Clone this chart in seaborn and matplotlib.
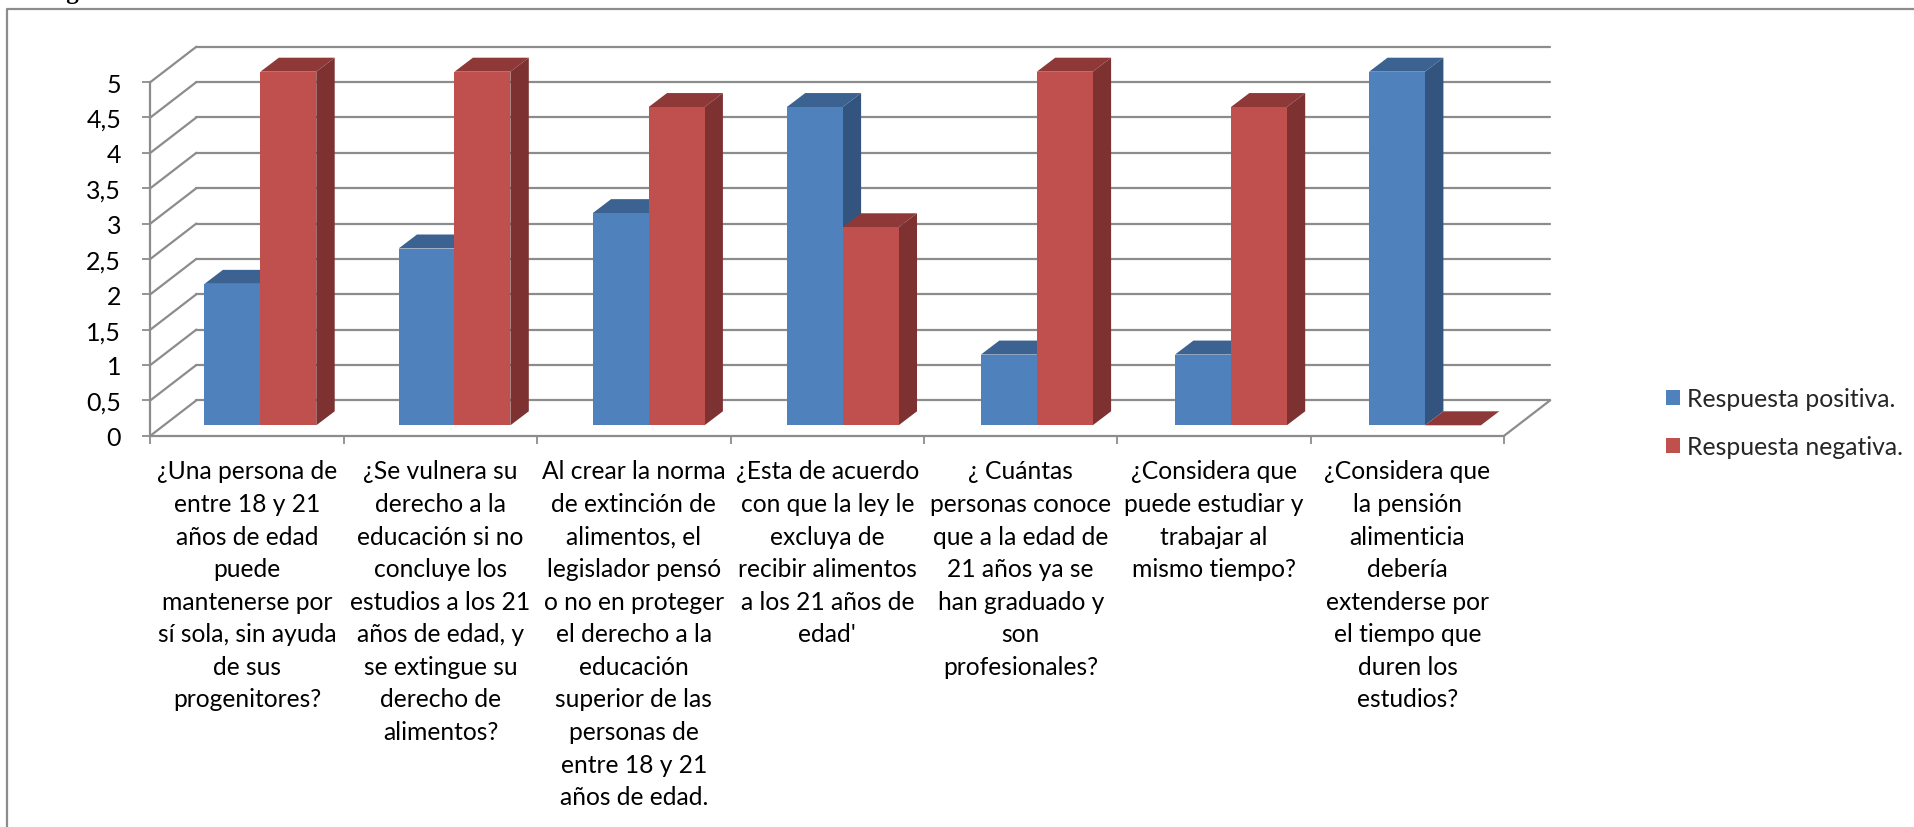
#!/usr/bin/env python
# -*- coding: utf-8 -*-

"""
Grouped bar chart with a fake 3D look (Excel style), drawn with seaborn.
"""

import pandas as pd
import matplotlib.pyplot as plt
import seaborn as sns
from matplotlib.lines import Line2D
from matplotlib.patches import Patch, Polygon
from matplotlib.transforms import Affine2D

# Data
preguntas = [
    "¿Una persona de\nentre 18 y 21\naños de edad\npuede\nmantenerse por\nsí sola, sin ayuda\nde sus\nprogenitores?",
    "¿Se vulnera su\nderecho a la\neducación si no\nconcluye los\nestudios a los 21\naños de edad, y\nse extingue su\nderecho de\nalimentos?",
    "Al crear la norma\nde extinción de\nalimentos, el\nlegislador pensó\no no en proteger\nel derecho a la\neducación\nsuperior de las\npersonas de\nentre 18 y 21\naños de edad.",
    "¿Esta de acuerdo\ncon que la ley le\nexcluya de\nrecibir alimentos\na los 21 años de\nedad'",
    "¿ Cuántas\npersonas conoce\nque a la edad de\n21 años ya se\nhan graduado y\nson\nprofesionales?",
    "¿Considera que\npuede estudiar y\ntrabajar al\nmismo tiempo?",
    "¿Considera que\nla pensión\nalimenticia\ndebería\nextenderse por\nel tiempo que\nduren los\nestudios?",
]
positiva = [2, 2.5, 3, 4.5, 1, 1, 5]
negativa = [5, 5, 4.5, 2.8, 5, 4.5, 0]
series = ["Respuesta positiva.", "Respuesta negativa."]
y_ticks = [0, 0.5, 1, 1.5, 2, 2.5, 3, 3.5, 4, 4.5, 5]
y_labels = ["0", "0,5", "1", "1,5", "2", "2,5", "3", "3,5", "4", "4,5", "5"]

# Colours
front_colors = ["#4F81BD", "#C0504D"]
top_colors = ["#3C6291", "#8E3938"]
side_colors = ["#33547E", "#7D3130"]
grid_color = "#8C8C8C"

# Layout, in pixels of the 1914x828 picture
W, H = 1914, 828
unit_h = 70.72
front_w = 193.4                   # category width on the floor edge
bars_w = 194.1                    # category width in the plane of the bars
front_x, front_y = 150.4, 436.7   # front corner of the floor
bars_x, bars_y = 163.35, 426.3    # plane of the bars front faces
back_dx, back_dy = 46.0, 35.4     # back wall, seen from the floor edge
depth_x, depth_y = 18.4, 14.0     # depth of one bar

sns.set_theme(style="white")
plt.rcParams["font.family"] = ["Lato", "DejaVu Sans"]
label_size = 17.7
y_label_size = 18
legend_size = 17.8

df = pd.DataFrame({
    "pregunta": preguntas * 2,
    "serie": [series[0]] * 7 + [series[1]] * 7,
    "valor": positiva + negativa,
})

fig = plt.figure(figsize=(W / 100, H / 100), dpi=100, facecolor="white")


def axes_rect(x, y, cat_w):
    return [x / W, (H - y) / H, cat_w * 7 / W, unit_h * 5 / H]


# Front axes: carries the ticks and labels
ax_front = fig.add_axes(axes_rect(front_x, front_y, front_w))
ax_front.set_xlim(-0.5, 6.5)
ax_front.set_ylim(0, 5)
ax_front.patch.set_alpha(0)
ax_front.set_yticks(y_ticks)
ax_front.set_yticklabels(y_labels, fontsize=y_label_size, color="black")
ax_front.set_xticks([i - 0.5 for i in range(8)])
ax_front.set_xticklabels([])
ax_front.set_xticks(range(7), labels=preguntas, minor=True, fontsize=label_size,
                    linespacing=1.505, va="top", ha="center", color="black")
ax_front.tick_params(axis="x", which="major", length=6, width=1.3, color=grid_color, bottom=True)
ax_front.tick_params(axis="x", which="minor", length=0, pad=17)
ax_front.tick_params(axis="y", length=6, width=1.3, color=grid_color, left=True, pad=15)
for spine in ["top", "right"]:
    ax_front.spines[spine].set_visible(False)
for spine in ["left", "bottom"]:
    ax_front.spines[spine].set_color(grid_color)
    ax_front.spines[spine].set_linewidth(1.6)

# Bars axes
ax = fig.add_axes(axes_rect(bars_x, bars_y, bars_w))
ax.patch.set_alpha(0)
sns.barplot(data=df, x="pregunta", y="valor", hue="serie", order=preguntas, hue_order=series,
            palette=front_colors, width=0.576, gap=0, saturation=1, ax=ax, legend=False)
ax.set_xlim(-0.5, 6.5)
ax.set_ylim(0, 5)
ax.axis("off")

# Back wall, left wall and floor edge
to_front = ax_front.transData
back = to_front + Affine2D().translate(back_dx, back_dy)
for y in y_ticks:
    ax.plot([-0.5, 6.5], [y, y], color=grid_color, lw=1.6, transform=back, clip_on=False, zorder=1)
    x0, y0 = to_front.transform((-0.5, y))
    ax.add_line(Line2D([x0, x0 + back_dx], [y0, y0 + back_dy], color=grid_color, lw=1.6,
                       transform=Affine2D(), clip_on=False, zorder=1))
x0, y0 = to_front.transform((6.5, 0))
ax.add_line(Line2D([x0, x0 + back_dx], [y0, y0 + back_dy], color=grid_color, lw=1.6,
                   transform=Affine2D(), clip_on=False, zorder=1))

# Depth of the bars: top and side faces for every bar, from the seaborn patches
ddx = depth_x / bars_w
ddy = depth_y / unit_h
for s, container in enumerate(ax.containers):
    for b in container:
        xa, xb = b.get_x(), b.get_x() + b.get_width()
        h = b.get_height()
        order = 3 + 2 * s
        ax.add_patch(Polygon([(xa, h), (xb, h), (xb + ddx, h + ddy), (xa + ddx, h + ddy)],
                             facecolor=top_colors[s], edgecolor="none", zorder=order, clip_on=False))
        ax.add_patch(Polygon([(xb, 0), (xb + ddx, ddy), (xb + ddx, h + ddy), (xb, h)],
                             facecolor=side_colors[s], edgecolor="none", zorder=order, clip_on=False))
        b.set_zorder(order + 1)
        b.set_linewidth(0)

# Legend
handles = [Patch(facecolor=front_colors[i], edgecolor="none", label=series[i]) for i in range(2)]
fig.legend(handles=handles, loc="upper left", bbox_to_anchor=(1665.5 / W, (H - 388) / H),
           frameon=False, fontsize=legend_size, handlelength=0.59, handleheight=0.59,
           handletextpad=0.28, labelspacing=1.02, borderpad=0, borderaxespad=0)

# Frame of the picture and the cut heading above it
fig.add_artist(Line2D([7 / W, 7 / W, 1], [0, (H - 10) / H, (H - 10) / H], color=grid_color, lw=1.6))
fig.text(45 / W, (H + 1) / H, "Figura", fontsize=18, fontweight="bold", family="Liberation Serif",
         va="baseline", ha="left", color="black")

fig.savefig("out.png", dpi=100)
